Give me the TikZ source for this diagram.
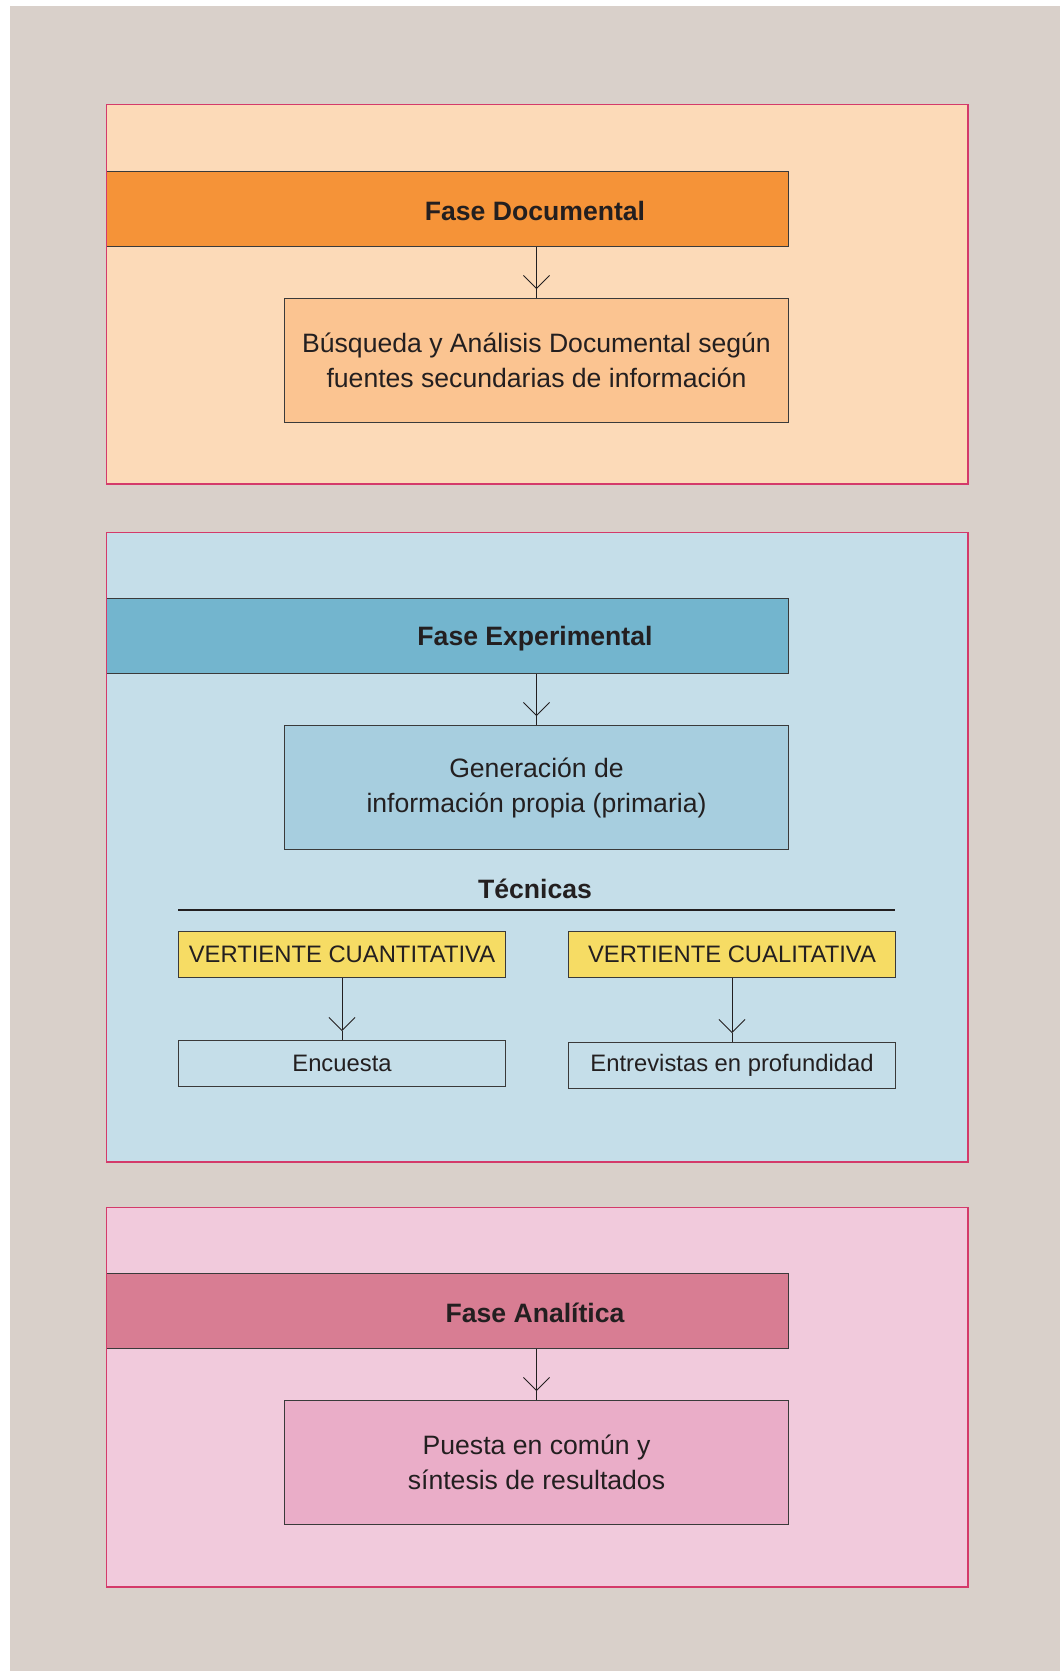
\documentclass[tikz,border=0pt]{standalone}
\usepackage{fontspec}
\setmainfont{Liberation Sans}
\usetikzlibrary{arrows.meta}
\definecolor{bggray}{HTML}{D9D0CA}
\definecolor{panelborder}{HTML}{D43A6A}
\definecolor{boxborder}{HTML}{3A3A3A}
\definecolor{textdark}{HTML}{231F20}
\definecolor{docbg}{HTML}{FCDAB8}
\definecolor{dochead}{HTML}{F59338}
\definecolor{docin}{HTML}{FBC491}
\definecolor{expbg}{HTML}{C5DEE9}
\definecolor{exphead}{HTML}{73B5CE}
\definecolor{expin}{HTML}{A7CEDF}
\definecolor{anabg}{HTML}{F1CADC}
\definecolor{anahead}{HTML}{D87D93}
\definecolor{anain}{HTML}{EAADC8}
\definecolor{vyellow}{HTML}{F6DC64}
\begin{document}
\begin{tikzpicture}[x=1pt,y=-1pt,
  panel/.style={draw=panelborder, line width=1pt, inner sep=0pt, anchor=north west},
  headbox/.style={draw=boxborder, line width=1.2pt, inner sep=0pt, anchor=north west, minimum width=682pt, minimum height=75pt},
  bigbox/.style={draw=boxborder, line width=1pt, inner sep=0pt, anchor=north west, minimum width=504pt, minimum height=124pt, align=center, font=\fontsize{26.6}{35}\selectfont, text=textdark},
  smallbox/.style={draw=boxborder, line width=1pt, inner sep=0pt, anchor=north west, minimum width=327pt, minimum height=46pt, font=\fontsize{23.8}{28}\selectfont, text=textdark},
  headtext/.style={font=\fontsize{26.6}{30}\selectfont\bfseries, text=textdark},
  conn/.style={draw=textdark, line width=0.8pt},
  tip/.style={conn, -{Straight Barb[length=13pt,width=26pt]}}
]
\useasboundingbox (0,0) rectangle (1060,1671);
\fill[white] (0,0) rectangle (1060,1671);
\fill[bggray] (10,6) rectangle (1060,1671);

% ---------- Fase Documental ----------
\node[panel, fill=docbg, minimum width=861pt, minimum height=379pt] (p1) at (106,104) {};
\node[headbox, fill=dochead] (h1) at (106,171) {};
\node[headtext] (t1) at (535,211) {Fase Documental};
\node[bigbox, fill=docin] (i1) at (284,298) {Búsqueda y Análisis Documental según\\fuentes secundarias de información};
\draw[tip] (h1.south -| i1.north) -- ([yshift=9pt]i1.north);
\draw[conn] ([yshift=9pt]i1.north) -- (i1.north);

% ---------- Fase Experimental ----------
\node[panel, fill=expbg, minimum width=861pt, minimum height=629pt] (p2) at (106,532) {};
\node[headbox, fill=exphead] (h2) at (106,598) {};
\node[headtext] (t2) at (535,639) {Fase Experimental};
\node[bigbox, fill=expin] (i2) at (284,725) {Generación de\\información propia (primaria)};
\draw[tip] (h2.south -| i2.north) -- ([yshift=9pt]i2.north);
\draw[conn] ([yshift=9pt]i2.north) -- (i2.north);

\node[headtext] (tec) at (535,889) {Técnicas};
\coordinate (tl) at (178,910);
\coordinate (tr) at (895,910);
\draw[draw=textdark, line width=1.5pt] (tl) -- (tr);

\node[smallbox, fill=vyellow] (v1) at (178,931) {VERTIENTE CUANTITATIVA};
\node[smallbox, fill=vyellow] (v2) at (568,931) {VERTIENTE CUALITATIVA};
\node[smallbox, fill=expbg] (e1) at (178,1040) {Encuesta};
\node[smallbox, fill=expbg] (e2) at (568,1042) {Entrevistas en profundidad};
\draw[tip] (v1.south) -- ([yshift=9pt]e1.north);
\draw[conn] ([yshift=9pt]e1.north) -- (e1.north);
\draw[tip] (v2.south) -- ([yshift=9pt]e2.north);
\draw[conn] ([yshift=9pt]e2.north) -- (e2.north);

% ---------- Fase Analítica ----------
\node[panel, fill=anabg, minimum width=861pt, minimum height=379pt] (p3) at (106,1207) {};
\node[headbox, fill=anahead] (h3) at (106,1273) {};
\node[headtext] (t3) at (535,1313) {Fase Analítica};
\node[bigbox, fill=anain] (i3) at (284,1400) {Puesta en común y\\síntesis de resultados};
\draw[tip] (h3.south -| i3.north) -- ([yshift=9pt]i3.north);
\draw[conn] ([yshift=9pt]i3.north) -- (i3.north);

% panel borders on top
\draw[panelborder, line width=1pt] (p1.north west) rectangle (p1.south east);
\draw[panelborder, line width=1pt] (p2.north west) rectangle (p2.south east);
\draw[panelborder, line width=1pt] (p3.north west) rectangle (p3.south east);
\end{tikzpicture}
\end{document}
